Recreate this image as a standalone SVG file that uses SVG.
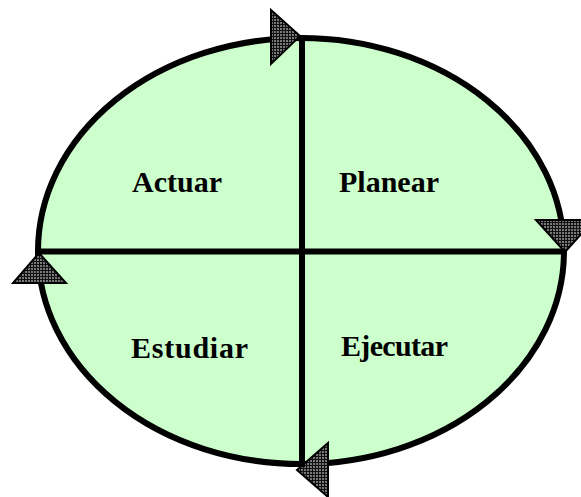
<svg xmlns="http://www.w3.org/2000/svg" width="581" height="497" viewBox="0 0 581 497">
<style>
.lbl{font-family:"Liberation Serif","Times New Roman",serif;font-weight:bold;font-size:30px;fill:#000}
.ln{stroke:#000;stroke-width:6;fill:none}
.arr{fill:url(#hatch);stroke:#000;stroke-width:2;stroke-linejoin:miter}
</style>
<defs>
<pattern id="hatch" width="3" height="3" patternUnits="userSpaceOnUse">
<rect width="3" height="3" fill="#777"/>
<rect width="1" height="3" fill="#111"/>
<rect width="3" height="1" fill="#111"/>
</pattern>
</defs>
<g id="cycle">
<ellipse cx="301" cy="251" rx="263" ry="213" fill="#CCFFCC" stroke="#000" stroke-width="6"/>
</g>
<g id="connectors">
<polygon class="arr" points="271,10 300,36 271,64"/>
<polygon class="arr" points="536,220 594,220 565,252"/>
<polygon class="arr" points="39,253 13,283 66,283"/>
<polygon class="arr" points="328,443 328,497 297,470"/>
<line class="ln" x1="302" y1="35" x2="302" y2="467"/>
<line class="ln" x1="37" y1="251.5" x2="565" y2="251.5"/>
</g>
<g id="actuar"><text class="lbl" x="132" y="192">Actuar</text></g>
<g id="planear"><text class="lbl" x="339" y="192">Planear</text></g>
<g id="estudiar"><text class="lbl" x="131" y="358" textLength="117">Estudiar</text></g>
<g id="ejecutar"><text class="lbl" x="341" y="356" textLength="107">Ejecutar</text></g>
</svg>
